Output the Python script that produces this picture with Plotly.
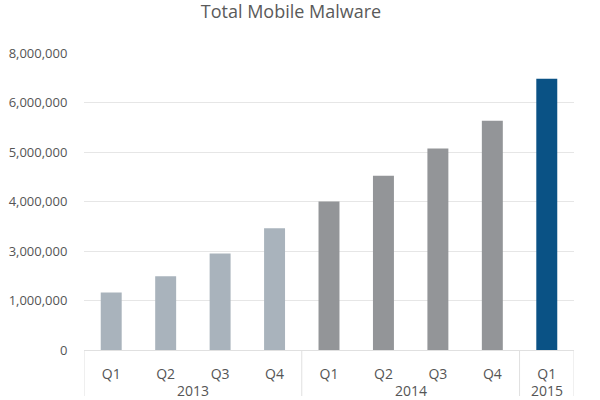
import plotly.graph_objects as go

years = ["2013", "2013", "2013", "2013", "2014", "2014", "2014", "2014", "2015"]
quarters = ["Q1", "Q2", "Q3", "Q4", "Q1", "Q2", "Q3", "Q4", "Q1"]
# values in axis units (gridlines evenly spaced)
values = [1160000, 1490000, 1950000, 2460000, 3000000, 3520000, 4070000, 4630000, 5480000]
bar_colors = ["#A9B3BC"] * 4 + ["#939598"] * 4 + ["#0A5285"]
tick_vals = [0, 1000000, 2000000, 3000000, 4000000, 5000000, 6000000]
tick_text = ["0", "1,000,000", "3,000,000", "4,000,000", "5,000,000", "6,000,000", "8,000,000"]

cats = [f"{q} {y}" for q, y in zip(quarters, years)]

fig = go.Figure(go.Bar(
    x=cats,
    y=values,
    marker=dict(color=bar_colors, line=dict(width=0)),
))

# year groups: centre labels and divider lines derived from the data
groups = {}
for i, y in enumerate(years):
    groups.setdefault(y, []).append(i)
boundaries = set()
for y, idx in groups.items():
    lo, hi = min(idx) - 0.5, max(idx) + 0.5
    boundaries.update([lo, hi])
    fig.add_annotation(x=sum(idx) / len(idx), xref="x", y=0, yref="paper",
                       yanchor="middle", yshift=-40, text=y, showarrow=False,
                       borderpad=0,
                       font=dict(size=14, color="#555555"))
for b in sorted(boundaries):
    fig.add_shape(type="line", xref="x", yref="paper", x0=b, x1=b,
                  ysizemode="pixel", yanchor=0, y0=0, y1=-46,
                  line=dict(color="#E0E0E0", width=1))

fig.update_layout(
    width=600, height=400,
    margin=dict(l=84, r=26, t=53, b=50, autoexpand=False),
    paper_bgcolor="white", plot_bgcolor="white",
    font=dict(family="Open Sans", color="#555555", size=13),
    title=dict(text="Total Mobile Malware", x=0.485, xanchor="center",
               y=0.97, yanchor="middle", yref="container",
               font=dict(size=18, color="#5A5A5A")),
    bargap=0.615,
    showlegend=False,
)
fig.update_yaxes(
    range=[0, 6000000], tickvals=tick_vals, ticktext=tick_text,
    gridcolor="#E6E6E6", gridwidth=1, zeroline=False,
    ticks="outside", ticklen=13, tickcolor="rgba(0,0,0,0)",
    showline=False, tickfont=dict(size=13, color="#555555"),
    automargin=False,
)
fig.update_xaxes(
    tickvals=cats, ticktext=quarters,
    showline=True, linecolor="#E0E0E0", linewidth=1,
    tickfont=dict(size=14, color="#555555"),
    ticks="", ticklabelstandoff=11, automargin=False,
    range=[-0.5, len(cats) - 0.5],
)

fig.write_html("out.html", post_script="document.body.style.margin='0';",
               config={"displayModeBar": False})
